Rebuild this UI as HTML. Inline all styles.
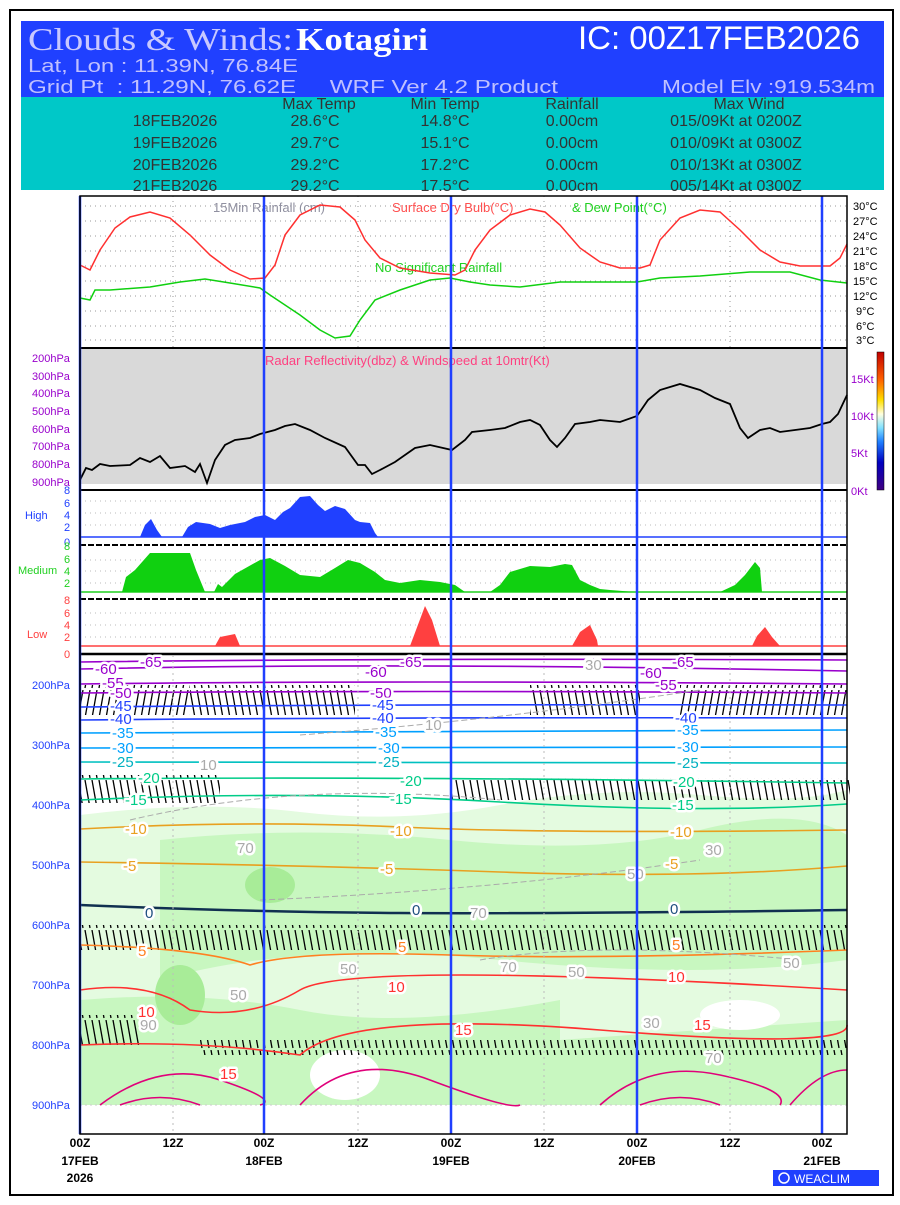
<!DOCTYPE html>
<html><head><meta charset="utf-8"><style>
body{margin:0;background:#fff;width:900px;height:1200px;overflow:hidden}
svg text{font-family:"Liberation Sans",sans-serif}
.lb text{paint-order:stroke;stroke:#fff;stroke-width:5px;stroke-linejoin:round}
</style></head><body>
<svg width="900" height="1200" viewBox="0 0 900 1200" xmlns="http://www.w3.org/2000/svg">
<defs>
<pattern id="barb" width="7" height="30" patternUnits="userSpaceOnUse"><path d="M1,0 L6,28" stroke="#000" stroke-width="1.3"/></pattern>
<pattern id="barb2" width="7" height="30" patternUnits="userSpaceOnUse"><path d="M6,0 L1,28" stroke="#000" stroke-width="1.3"/></pattern>
<linearGradient id="cb" x1="0" y1="1" x2="0" y2="0">
<stop offset="0" stop-color="#400080"/><stop offset="0.2" stop-color="#0000c0"/><stop offset="0.35" stop-color="#2080ff"/><stop offset="0.45" stop-color="#80e0ff"/><stop offset="0.55" stop-color="#ffffe0"/><stop offset="0.65" stop-color="#ffe000"/><stop offset="0.8" stop-color="#ff6000"/><stop offset="1" stop-color="#c00000"/></linearGradient>
</defs>
<rect x="10" y="10" width="883" height="1185" fill="none" stroke="#000" stroke-width="2"/>
<!-- header -->
<rect x="21" y="21" width="863" height="77" fill="#2040ff"/>
<rect x="21" y="97" width="863" height="93" fill="#00c8c8"/>
<text x="28" y="50" font-size="32" fill="#c8c8ff" style="font-family:'Liberation Serif',serif" textLength="265" lengthAdjust="spacingAndGlyphs">Clouds &amp; Winds:</text>
<text x="296" y="50" font-size="32" fill="#fff" style="font-family:'Liberation Serif',serif;font-weight:bold" textLength="132" lengthAdjust="spacingAndGlyphs">Kotagiri</text>
<text x="578" y="49" font-size="32" fill="#fff" textLength="282" lengthAdjust="spacingAndGlyphs">IC: 00Z17FEB2026</text>
<text x="28" y="72" font-size="18" fill="#c0c0ff" textLength="270" lengthAdjust="spacingAndGlyphs">Lat, Lon : 11.39N, 76.84E</text>
<text x="28" y="93" font-size="18" fill="#c0c0ff" textLength="530" lengthAdjust="spacingAndGlyphs">Grid Pt &#160;: 11.29N, 76.62E &#160;&#160;&#160;&#160;WRF Ver 4.2 Product</text>
<text x="662" y="93" font-size="18" fill="#c0c0ff" textLength="213" lengthAdjust="spacingAndGlyphs">Model Elv :919.534m</text>
<g font-size="16" fill="#333" text-anchor="middle">
<text x="319" y="109">Max Temp</text><text x="445" y="109">Min Temp</text><text x="572" y="109">Rainfall</text><text x="749" y="109">Max Wind</text>
<text x="175" y="126">18FEB2026</text><text x="315" y="126">28.6°C</text><text x="445" y="126">14.8°C</text><text x="572" y="126">0.00cm</text><text x="736" y="126">015/09Kt at 0200Z</text>
<text x="175" y="148">19FEB2026</text><text x="315" y="148">29.7°C</text><text x="445" y="148">15.1°C</text><text x="572" y="148">0.00cm</text><text x="736" y="148">010/09Kt at 0300Z</text>
<text x="175" y="170">20FEB2026</text><text x="315" y="170">29.2°C</text><text x="445" y="170">17.2°C</text><text x="572" y="170">0.00cm</text><text x="736" y="170">010/13Kt at 0300Z</text>
<text x="175" y="191">21FEB2026</text><text x="315" y="191">29.2°C</text><text x="445" y="191">17.5°C</text><text x="572" y="191">0.00cm</text><text x="736" y="191">005/14Kt at 0300Z</text>
</g>
<!-- temp panel -->
<g stroke="#999" stroke-dasharray="1,4" stroke-width="1">
<path d="M80,206H847M80,221H847M80,236H847M80,251H847M80,266H847M80,281H847M80,296H847M80,311H847M80,326H847M80,340H847"/>
<path d="M173,196V348M358,196V348M544,196V348M730,196V348"/>
</g>
<g font-size="11" fill="#000">
<text x="853" y="210">30°C</text><text x="853" y="225">27°C</text><text x="853" y="240">24°C</text><text x="853" y="255">21°C</text><text x="853" y="270">18°C</text><text x="853" y="285">15°C</text><text x="853" y="300">12°C</text><text x="856" y="315">9°C</text><text x="856" y="330">6°C</text><text x="856" y="344">3°C</text>
</g>
<text x="213" y="212" font-size="13" fill="#9090a0">15Min Rainfall (cm)</text>
<text x="392" y="212" font-size="13" fill="#ff5050">Surface Dry Bulb(°C)</text>
<text x="572" y="212" font-size="13" fill="#20d020">&amp; Dew Point(°C)</text>
<text x="375" y="272" font-size="13" fill="#20d020">No Significant Rainfall</text>
<polyline fill="none" stroke="#ff3030" stroke-width="1.5" points="80,265 90,270 100,250 115,228 130,217 150,212 170,218 190,235 210,255 230,270 250,279 265,278 275,265 285,235 300,215 320,205 340,207 355,220 365,240 380,258 400,268 430,273 455,275 465,270 475,250 490,230 510,215 530,209 545,212 560,225 580,248 600,262 620,268 640,268 650,265 660,240 680,218 700,210 720,212 740,230 760,250 780,262 800,266 830,266 840,258 847,244"/>
<polyline fill="none" stroke="#10d010" stroke-width="1.5" points="80,298 90,300 95,290 110,290 150,287 180,282 205,279 230,283 260,288 270,295 285,305 300,315 320,330 335,338 350,336 360,320 375,300 400,290 430,280 450,278 470,282 490,285 520,287 560,282 600,282 637,282 660,278 700,276 750,272 790,272 820,280 847,283"/>
<!-- radar -->
<rect x="80" y="348" width="767" height="136" fill="#d9d9d9"/>
<line x1="80" y1="348" x2="847" y2="348" stroke="#000" stroke-width="2"/>
<line x1="80" y1="490" x2="847" y2="490" stroke="#000" stroke-width="2"/>
<g font-size="11" fill="#9900cc">
<text x="32" y="362">200hPa</text><text x="32" y="380">300hPa</text><text x="32" y="397">400hPa</text><text x="32" y="415">500hPa</text><text x="32" y="433">600hPa</text><text x="32" y="450">700hPa</text><text x="32" y="468">800hPa</text><text x="32" y="486">900hPa</text>
<text x="851" y="383">15Kt</text><text x="851" y="420">10Kt</text><text x="851" y="457">5Kt</text><text x="851" y="495">0Kt</text>
</g>
<text x="265" y="365" font-size="13" fill="#ff4080">Radar Reflectivity(dbz) &amp; Windspeed at 10mtr(Kt)</text>
<rect x="877" y="352" width="7" height="138" fill="url(#cb)" stroke="#000" stroke-width="0.5"/>
<polyline fill="none" stroke="#000" stroke-width="1.8" points="80,480 86,468 92,470 100,464 110,466 130,465 140,458 150,462 160,456 170,468 185,466 195,472 200,464 207,483 215,460 225,445 235,440 250,438 260,434 275,430 285,426 295,424 310,430 325,438 345,447 358,465 365,465 372,474 380,470 395,462 415,448 430,445 452,450 465,440 472,432 490,430 505,428 520,422 530,420 540,425 550,440 557,447 565,438 575,424 590,422 600,420 620,422 637,416 648,400 660,390 680,384 700,390 715,398 730,404 740,428 748,438 760,430 770,428 780,432 795,430 810,428 822,424 830,422 838,414 847,395"/>
<!-- cloud panels -->
<g stroke="#bbb" stroke-dasharray="1,4">
<path d="M80,501H847M80,513H847M80,525H847M80,560H847M80,571H847M80,583H847M80,613H847M80,625H847M80,637H847"/>
</g>
<line x1="80" y1="537" x2="847" y2="537" stroke="#2040ff" stroke-width="1.5"/>
<line x1="80" y1="592" x2="847" y2="592" stroke="#20d020" stroke-width="1.5"/>
<line x1="80" y1="646" x2="847" y2="646" stroke="#ff4040" stroke-width="1.5"/>
<path d="M80,545H847M80,599H847" stroke="#000" stroke-width="2" stroke-dasharray="6,2"/>
<line x1="80" y1="654" x2="847" y2="654" stroke="#000" stroke-width="2.5"/>
<polygon fill="#2040ff" points="140,537 145,525 151,519 157,530 162,537 182,537 188,527 196,522 210,524 220,528 230,525 245,522 255,517 265,515 275,520 283,512 290,508 300,497 310,496 318,505 325,511 335,506 345,509 355,520 360,522 370,523 375,533 378,537"/>
<polygon fill="#10d010" points="122,592 126,577 135,570 150,553 190,553 196,570 205,592 214,592 218,584 222,587 235,574 260,560 270,558 285,566 300,575 320,577 335,568 348,560 360,563 375,572 385,580 400,583 420,580 440,582 455,585 465,592 490,592 500,585 510,572 530,566 550,567 565,564 572,565 580,580 590,585 600,589 610,590 635,592 720,592 735,585 745,575 755,562 760,568 762,592"/>
<polygon fill="#ff4040" points="215,646 220,637 235,634 240,646 410,646 416,630 425,606 432,620 440,646 572,646 580,632 590,625 597,640 598,646 752,646 757,636 765,627 772,637 780,646"/>
<g font-size="11">
<text x="64" y="494" fill="#2040ff">8</text><text x="64" y="507" fill="#2040ff">6</text><text x="64" y="519" fill="#2040ff">4</text><text x="64" y="531" fill="#2040ff">2</text><text x="64" y="546" fill="#2040ff">0</text>
<text x="25" y="519" fill="#2040ff">High</text>
<text x="64" y="550" fill="#20d020">8</text><text x="64" y="563" fill="#20d020">6</text><text x="64" y="575" fill="#20d020">4</text><text x="64" y="587" fill="#20d020">2</text>
<text x="18" y="574" fill="#20d020">Medium</text>
<text x="64" y="604" fill="#ff4040">8</text><text x="64" y="617" fill="#ff4040">6</text><text x="64" y="629" fill="#ff4040">4</text><text x="64" y="641" fill="#ff4040">2</text><text x="64" y="658" fill="#ff4040">0</text>
<text x="27" y="638" fill="#ff4040">Low</text>
</g>
<!-- bottom panel fills -->
<path d="M80,815 Q200,800 300,812 T500,805 T700,795 T847,790 V1105 H80Z" fill="#e4fbe0"/>
<path d="M160,840 Q300,825 450,840 T700,830 T847,835 V960 Q700,980 500,960 T160,980Z" fill="#c8f7c0"/>
<path d="M80,1000 Q200,990 300,1010 T560,1000 V1105 H80Z" fill="#c8f7c0"/>
<path d="M560,1040 Q700,1030 847,1020 V1105 H560Z" fill="#c8f7c0"/>
<ellipse cx="180" cy="995" rx="25" ry="30" fill="#a8ec98"/>
<ellipse cx="270" cy="885" rx="25" ry="18" fill="#a8ec98"/>
<ellipse cx="345" cy="1075" rx="35" ry="25" fill="#fff"/>
<ellipse cx="740" cy="1015" rx="40" ry="15" fill="#fff"/>
<path d="M80,1105H847" stroke="#ccc" stroke-dasharray="2,3"/>
<!-- barbs -->
<rect x="80" y="685" width="110" height="30" fill="url(#barb2)"/>
<rect x="190" y="685" width="165" height="30" fill="url(#barb)"/>
<rect x="530" y="685" width="110" height="30" fill="url(#barb)"/>
<rect x="680" y="685" width="167" height="30" fill="url(#barb2)"/>
<rect x="80" y="775" width="140" height="28" fill="url(#barb)"/>
<rect x="450" y="778" width="400" height="22" fill="url(#barb)"/>
<rect x="80" y="925" width="767" height="25" fill="url(#barb)"/>
<rect x="80" y="1015" width="60" height="30" fill="url(#barb)"/>
<rect x="200" y="1040" width="647" height="15" fill="url(#barb)"/>
<!-- contours -->
<g fill="none" stroke-width="1.6">
<path d="M80,662 Q400,658 847,660" stroke="#9900cc"/>
<path d="M80,669 Q400,662 847,671" stroke="#9900cc"/>
<path d="M80,684 Q400,680 847,684" stroke="#9900cc"/>
<path d="M80,693 Q400,690 847,693" stroke="#9900cc"/>
<path d="M80,707 Q400,704 847,705" stroke="#2040ff"/>
<path d="M80,720 Q400,717 847,718" stroke="#2040ff"/>
<path d="M80,733 Q400,731 847,730" stroke="#00a0ff"/>
<path d="M80,748 Q400,748 847,747" stroke="#00a0ff"/>
<path d="M80,762 Q400,761 847,763" stroke="#00c0c0"/>
<path d="M80,779 Q400,776 847,783" stroke="#00cc88"/>
<path d="M80,800 Q300,790 500,802 T847,804" stroke="#00cc88"/>
<path d="M80,829 Q250,820 400,827 T847,830" stroke="#e8a020"/>
<path d="M80,862 Q300,865 500,872 T847,866" stroke="#e8a020"/>
<path d="M80,905 Q250,912 400,913 T847,910" stroke="#103050" stroke-width="2.5"/>
<path d="M80,945 Q200,948 250,965 Q300,950 450,955 T847,950" stroke="#ff8020"/>
<path d="M80,990 Q150,980 190,1010 Q250,1020 300,990 T847,990" stroke="#ff3030"/>
<path d="M80,1045 Q200,1040 300,1055 Q350,1010 600,1030 T847,1025" stroke="#ff3030"/>
<path d="M100,1105 Q160,1060 220,1080 T260,1105 M300,1105 Q350,1050 430,1080 T520,1105 M600,1105 Q650,1060 720,1075 T780,1105 M790,1105 Q820,1070 847,1070" stroke="#e0007a"/>
<path d="M120,1105 Q160,1090 200,1105 M640,1105 Q680,1090 720,1105" stroke="#e0007a"/>
<path d="M300,735 Q500,720 700,690 M130,820 Q300,780 500,800 M260,900 Q500,890 700,860 M480,960 Q600,940 800,960" stroke="#aaa" stroke-width="1" stroke-dasharray="6,3"/>
</g>
<g font-size="15" class="lb">
<text x="140" y="667" fill="#9900cc">-65</text><text x="400" y="667" fill="#9900cc">-65</text><text x="672" y="667" fill="#9900cc">-65</text>
<text x="95" y="674" fill="#9900cc">-60</text><text x="365" y="677" fill="#9900cc">-60</text><text x="640" y="678" fill="#9900cc">-60</text>
<text x="102" y="688" fill="#9900cc">-55</text><text x="655" y="690" fill="#9900cc">-55</text>
<text x="110" y="698" fill="#9900cc">-50</text><text x="370" y="698" fill="#9900cc">-50</text>
<text x="110" y="711" fill="#2040ff">-45</text><text x="372" y="710" fill="#2040ff">-45</text>
<text x="110" y="724" fill="#2040ff">-40</text><text x="372" y="723" fill="#2040ff">-40</text><text x="675" y="723" fill="#2040ff">-40</text>
<text x="112" y="738" fill="#00a0ff">-35</text><text x="375" y="737" fill="#00a0ff">-35</text><text x="677" y="735" fill="#00a0ff">-35</text>
<text x="112" y="753" fill="#00a0ff">-30</text><text x="378" y="753" fill="#00a0ff">-30</text><text x="677" y="752" fill="#00a0ff">-30</text>
<text x="112" y="767" fill="#00b0c0">-25</text><text x="378" y="767" fill="#00b0c0">-25</text><text x="677" y="768" fill="#00b0c0">-25</text>
<text x="138" y="783" fill="#00cc88">-20</text><text x="400" y="786" fill="#00cc88">-20</text><text x="673" y="787" fill="#00cc88">-20</text>
<text x="125" y="805" fill="#00cc88">-15</text><text x="390" y="804" fill="#00cc88">-15</text><text x="672" y="810" fill="#00cc88">-15</text>
<text x="125" y="834" fill="#e8a020">-10</text><text x="390" y="836" fill="#e8a020">-10</text><text x="670" y="837" fill="#e8a020">-10</text>
<text x="123" y="871" fill="#e8a020">-5</text><text x="380" y="874" fill="#e8a020">-5</text><text x="665" y="869" fill="#e8a020">-5</text>
<text x="145" y="918" fill="#205080">0</text><text x="412" y="915" fill="#205080">0</text><text x="670" y="914" fill="#205080">0</text>
<text x="138" y="956" fill="#ff8020">5</text><text x="398" y="952" fill="#ff8020">5</text><text x="672" y="950" fill="#ff8020">5</text>
<text x="138" y="1017" fill="#ff3030">10</text><text x="388" y="992" fill="#ff3030">10</text><text x="668" y="982" fill="#ff3030">10</text>
<text x="220" y="1079" fill="#ff3030">15</text><text x="455" y="1035" fill="#ff3030">15</text><text x="694" y="1030" fill="#ff3030">15</text>
<text x="237" y="853" fill="#aaa">70</text><text x="470" y="918" fill="#aaa">70</text><text x="500" y="972" fill="#aaa">70</text><text x="340" y="974" fill="#aaa">50</text><text x="230" y="1000" fill="#aaa">50</text><text x="568" y="977" fill="#aaa">50</text><text x="783" y="968" fill="#aaa">50</text><text x="585" y="670" fill="#aaa">30</text><text x="425" y="730" fill="#aaa">10</text><text x="200" y="770" fill="#aaa">10</text><text x="705" y="855" fill="#aaa">30</text><text x="627" y="879" fill="#aaa">50</text><text x="140" y="1030" fill="#aaa">90</text><text x="643" y="1028" fill="#aaa">30</text><text x="705" y="1063" fill="#aaa">70</text>
</g>
<g font-size="11" fill="#2040ff">
<text x="32" y="689">200hPa</text><text x="32" y="749">300hPa</text><text x="32" y="809">400hPa</text><text x="32" y="869">500hPa</text><text x="32" y="929">600hPa</text><text x="32" y="989">700hPa</text><text x="32" y="1049">800hPa</text><text x="32" y="1109">900hPa</text>
</g>
<g stroke="#bbb" stroke-dasharray="2,4"><path d="M173,655V1134M358,655V1134M544,655V1134M730,655V1134"/></g>
<!-- blue verticals -->
<g stroke="#2040ff" stroke-width="2.5"><path d="M80,196V1134M264,196V1134M451,196V1134M637,196V1134M822,196V1134"/></g>
<rect x="80" y="196" width="767" height="938" fill="none" stroke="#000" stroke-width="1.5"/>
<g font-size="12" fill="#000" text-anchor="middle" font-weight="bold">
<text x="80" y="1147">00Z</text><text x="173" y="1147">12Z</text><text x="264" y="1147">00Z</text><text x="358" y="1147">12Z</text><text x="451" y="1147">00Z</text><text x="544" y="1147">12Z</text><text x="637" y="1147">00Z</text><text x="730" y="1147">12Z</text><text x="822" y="1147">00Z</text>
<text x="80" y="1165">17FEB</text><text x="264" y="1165">18FEB</text><text x="451" y="1165">19FEB</text><text x="637" y="1165">20FEB</text><text x="822" y="1165">21FEB</text>
<text x="80" y="1182">2026</text>
</g>
<rect x="773" y="1170" width="106" height="16" fill="#2040ff"/>
<circle cx="784" cy="1178" r="5" fill="none" stroke="#fff" stroke-width="1.5"/>
<text x="794" y="1183" font-size="12" fill="#fff">WEACLIM</text>
</svg>
</body></html>
